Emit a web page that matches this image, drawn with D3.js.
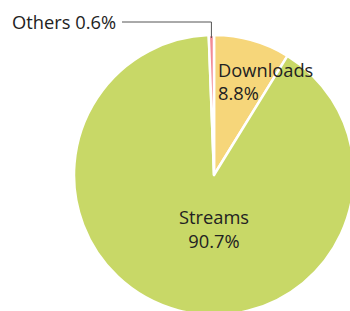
<!DOCTYPE html>
<html><head><meta charset="utf-8">
<script src="https://cdn.jsdelivr.net/npm/d3@7"></script>
<style>body{margin:0;background:#fff}svg{display:block}</style>
</head><body>
<svg id="c" width="350" height="311"></svg>
<script>
const categories = ["Downloads", "Streams", "Others"];
const values = [8.8, 90.7, 0.6];
const colors = ["#f6d67a", "#c8d867", "#f28b95"];

const svg = d3.select("#c");
const cx = 214, cy = 175, r = 140;
const g = svg.append("g").attr("transform", `translate(${cx},${cy})`);
const pie = d3.pie().sort(null).value(d => d)(values);
const arc = d3.arc().innerRadius(0).outerRadius(r);
g.selectAll("path").data(pie).enter().append("path")
  .attr("d", arc).attr("fill", (d,i) => colors[i])
  .attr("stroke", "#fff").attr("stroke-width", 2.5).attr("stroke-linejoin", "round");

const font = "'Open Sans', sans-serif";
const fs = 18.3;
function label(x, y, lines, anchor, dy) {
  const t = svg.append("text").attr("x", x).attr("y", y).attr("text-anchor", anchor)
    .attr("font-family", font).attr("font-size", fs).attr("fill", "#222");
  lines.forEach((s, i) => t.append("tspan").attr("x", x).attr("dy", i ? dy : 0).text(s));
}
label(218, 77, [categories[0], values[0] + "%"], "start", 22.5);
label(214, 224, [categories[1], values[1] + "%"], "middle", 24);

// Others leader
const oa = pie[2];
const mid = (oa.startAngle + oa.endAngle) / 2;
const px = cx + Math.sin(mid) * (r - 3), py = cy - Math.cos(mid) * (r - 3);
svg.append("path").attr("d", `M${px},${py}V22H122`).attr("fill", "none")
  .attr("stroke", "#555").attr("stroke-width", 1);
svg.append("text").attr("x", 116).attr("y", 28.5).attr("text-anchor", "end")
  .attr("font-family", font).attr("font-size", fs).attr("fill", "#222")
  .text(categories[2] + " " + values[2] + "%");
</script>
</body></html>
